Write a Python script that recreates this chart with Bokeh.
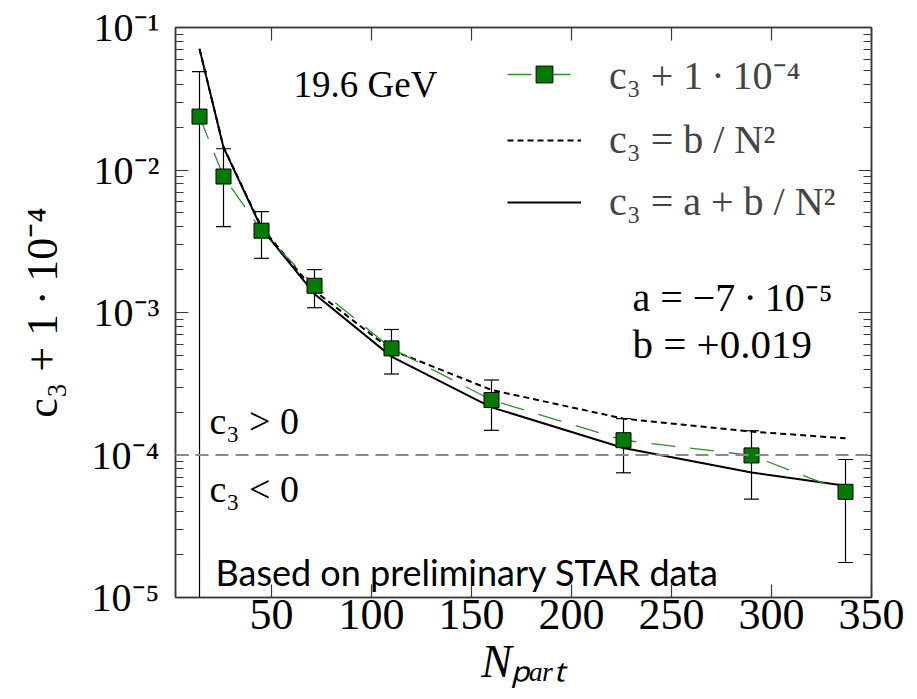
import math
from bokeh.plotting import figure
from bokeh.models import (Range1d, LogAxis, LinearAxis, FixedTicker, Span, Label,
                          Legend, LegendItem, CustomJSTickFormatter)
from bokeh.embed import file_html
from bokeh.resources import INLINE

# ---- data ----
npart = [14, 26, 45, 71.5, 110, 160, 226, 290, 337]
c3_plus = [0.0237, 0.0090, 0.00375, 0.00154, 0.00056, 0.000243, 0.000127, 0.0000993, 0.0000552]
err_hi = [0.049, 0.0141, 0.0051, 0.0020, 0.00076, 0.000336, 0.00018, 0.000148, 0.000093]
# first lower bound is negative (off-scale), marked far below the axis
err_lo = [1e-7, 0.0040, 0.0024, 0.00108, 0.00037, 0.000149, 0.000075, 0.000049, 0.0000176]
fit_b = [0.0709, 0.0145, 0.00397, 0.00142, 0.000545, 0.000286, 0.000180, 0.000146, 0.000131]
fit_ab = [0.0708, 0.0144, 0.0039, 0.00135, 0.00049, 0.000216, 0.000112, 0.0000753, 0.0000608]
zero_level = 1e-4

x_ticks = [50, 100, 150, 200, 250, 300, 350]
y_major = [1e-5, 1e-4, 1e-3, 1e-2, 1e-1]
y_minor = [m * d for d in y_major[:-1] for m in range(2, 10)]

SERIF = "Liberation Serif"
FRAME = "#3a3a3a"

p = figure(width=917, height=699, x_range=Range1d(2, 350), y_range=Range1d(1e-5, 1e-1),
           y_axis_type="log", output_backend="svg", toolbar_location=None,
           min_border_left=175, min_border_right=46, min_border_top=27, min_border_bottom=102)
p.grid.visible = False
p.outline_line_color = FRAME
p.outline_line_width = 1.5
p.background_fill_color = "white"
p.border_fill_color = "white"

sup_fmt = CustomJSTickFormatter(code="""
const e = Math.round(Math.log10(tick));
const m = {'-':'\u207b','0':'\u2070','1':'\u00b9','2':'\u00b2','3':'\u00b3','4':'\u2074','5':'\u2075','6':'\u2076','7':'\u2077','8':'\u2078','9':'\u2079'};
return '10' + String(e).split('').map(c => m[c]).join('');
""")
blank_fmt = CustomJSTickFormatter(code="return '';")

xt = FixedTicker(ticks=x_ticks)
yt = FixedTicker(ticks=y_major, minor_ticks=y_minor)

def style_x(ax, labels=True):
    ax.ticker = xt
    ax.major_tick_in = 13
    ax.major_tick_out = 0
    ax.minor_tick_line_color = None
    ax.axis_line_color = FRAME
    ax.axis_line_width = 1.5
    ax.major_tick_line_color = FRAME
    ax.major_tick_line_width = 1.2
    if labels:
        ax.major_label_text_font = SERIF
        ax.major_label_text_font_size = "44px"
        ax.major_label_text_color = "black"
        ax.major_label_standoff = 2
    else:
        ax.formatter = blank_fmt
        ax.major_label_text_font_size = "8px"
        ax.major_label_standoff = 0

def style_y(ax, labels=True):
    ax.ticker = yt
    ax.major_tick_in = 13
    ax.major_tick_out = 0
    ax.minor_tick_in = 8
    ax.minor_tick_out = 0
    ax.axis_line_color = FRAME
    ax.axis_line_width = 1.5
    ax.major_tick_line_color = FRAME
    ax.minor_tick_line_color = FRAME
    ax.major_tick_line_width = 1.2
    ax.minor_tick_line_width = 1.2
    if labels:
        ax.formatter = sup_fmt
        ax.major_label_text_font = SERIF
        ax.major_label_text_font_size = "40px"
        ax.major_label_text_color = "black"
        ax.major_label_standoff = 16
    else:
        ax.formatter = blank_fmt
        ax.major_label_text_font_size = "8px"
        ax.major_label_standoff = 0

style_x(p.xaxis[0])
style_y(p.yaxis[0])

p.xaxis[0].axis_label = "N\u209a\u2090\u1d63\u209c"
p.xaxis[0].axis_label_text_font = SERIF
p.xaxis[0].axis_label_text_font_size = "46px"
p.xaxis[0].axis_label_text_font_style = "italic"
p.xaxis[0].axis_label_text_color = "black"
p.xaxis[0].axis_label_standoff = 4

p.yaxis[0].axis_label = "c\u2083 + 1\u2009\u00b7\u200910\u207b\u2074"
p.yaxis[0].axis_label_text_font = SERIF
p.yaxis[0].axis_label_text_font_size = "44px"
p.yaxis[0].axis_label_text_font_style = "normal"
p.yaxis[0].axis_label_text_color = "black"
p.yaxis[0].axis_label_standoff = 22

top = LinearAxis()
style_x(top, labels=False)
p.add_layout(top, "above")
right = LogAxis()
style_y(right, labels=False)
p.add_layout(right, "right")

p.add_layout(Span(location=zero_level, dimension="width", line_color="#8a8a8a",
                  line_width=2, line_dash="13 7"))

r_b = p.line(npart, fit_b, line_color="black", line_width=2, line_dash="6 4")
r_ab = p.line(npart, fit_ab, line_color="black", line_width=2)
r_g = p.line(npart, c3_plus, line_color="#2f8f2f", line_width=1.3, line_dash="24 15")

p.segment(x0=npart, y0=err_lo, x1=npart, y1=err_hi, line_color="black", line_width=1.2)
p.scatter(npart, err_hi, marker="dash", size=15, line_color="black", line_width=1.2)
p.scatter(npart, err_lo, marker="dash", size=15, line_color="black", line_width=1.2)
r_sq = p.scatter(npart, c3_plus, marker="square", size=15, fill_color="#007a00",
                 line_color="black", line_width=1)

legend = Legend(items=[
    LegendItem(label="c\u2083 + 1\u2009\u00b7\u200910\u207b\u2074", renderers=[r_g, r_sq]),
    LegendItem(label="c\u2083 = b / N\u00b2", renderers=[r_b]),
    LegendItem(label="c\u2083 = a + b / N\u00b2", renderers=[r_ab]),
], location=(332, 372), glyph_width=74, glyph_height=42, label_height=42, spacing=15,
    padding=0, margin=0, border_line_color=None, background_fill_alpha=0,
    label_text_font=SERIF, label_text_font_size="40px", label_standoff=28)
p.add_layout(legend)

def lab(text, x, y, size, font=SERIF, style="normal", align="left", baseline="alphabetic", angle=0.0):
    p.add_layout(Label(x=x, y=y, x_units="screen", y_units="screen", text=text,
                       text_font=font, text_font_size=size, text_font_style=style,
                       text_align=align, text_baseline=baseline, angle=angle,
                       text_color="black"))

lab("19.6 GeV", 118, 513, "37px")
lab("a = \u22127\u2009\u00b7\u200910\u207b\u2075", 457, 300, "40px", baseline="middle")
lab("b = +0.019", 457, 254, "41px", baseline="middle")
lab("c\u2083 > 0", 34, 177, "38px", baseline="middle")
lab("c\u2083 < 0", 34, 109, "38px", baseline="middle")
lab("Based on preliminary STAR data", 40, 26, "36px", font="Lato")

open("out.html", "w").write(file_html(p, INLINE))
